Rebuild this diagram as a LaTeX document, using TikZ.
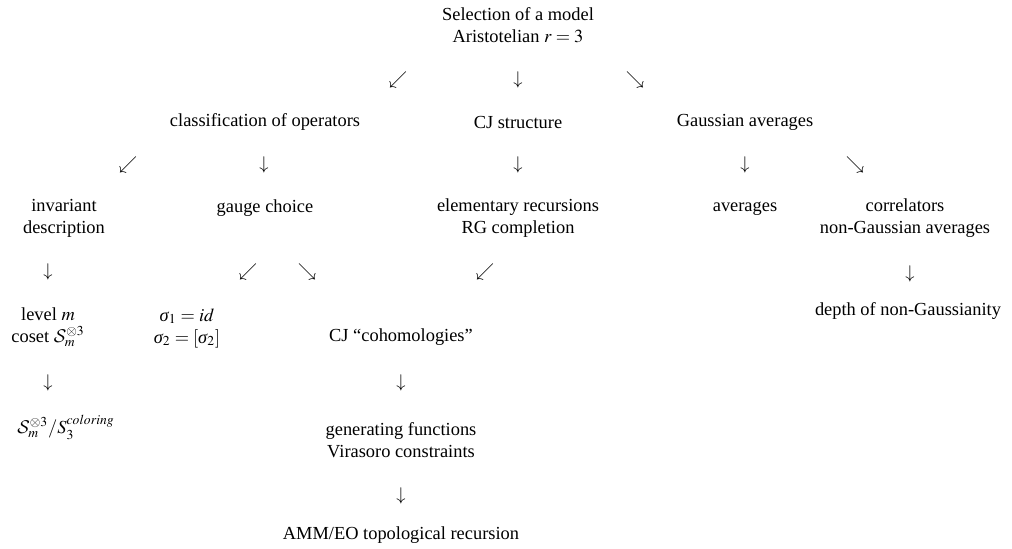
\documentclass[tikz,border=0pt]{standalone}
\usepackage{mathptmx}
\DeclareMathAlphabet{\mathcal}{OMS}{cmsy}{m}{n}
\usepackage[no-math]{fontspec}
\setmainfont{Liberation Serif}
\usepackage{tikz}
\newcommand{\sgm}{\mbox{\itshape σ}}

\begin{document}
\begin{tikzpicture}[x=0.5435pt,y=-0.5435pt,align=center,inner sep=0pt]
  \useasboundingbox (0,0) rectangle (1012,548);
  \node(sel)  at (518,25)  {Selection of a model\\Aristotelian $r=3$};
  \node(a1)   at (398,80)  {$\swarrow$};
  \node(a2)   at (518,80)  {$\downarrow$};
  \node(a3)   at (635,80)  {$\searrow$};
  \node(cls)  at (265,122) {classification of operators};
  \node(cj)   at (518,122) {CJ structure};
  \node(gau)  at (745,122) {Gaussian averages};
  \node(b1)   at (128,165) {$\swarrow$};
  \node(b2)   at (264,165) {$\downarrow$};
  \node(b3)   at (518,165) {$\downarrow$};
  \node(b4)   at (745,165) {$\downarrow$};
  \node(b5)   at (855,165) {$\searrow$};
  \node(inv)  at (64,218)  {invariant\\description};
  \node(gch)  at (265,208) {gauge choice};
  \node(elr)  at (518,218) {elementary recursions\\RG completion};
  \node(avg)  at (745,209) {averages};
  \node(cor)  at (905,218) {correlators\\non-Gaussian averages};
  \node(c1)   at (48,272)  {$\downarrow$};
  \node(c2)   at (248,272) {$\swarrow$};
  \node(c3)   at (307,272) {$\searrow$};
  \node(c4)   at (485,272) {$\swarrow$};
  \node(c5)   at (910,274) {$\downarrow$};
  \node(lvl)  at (48,327)  {level $m$\\coset $\mathcal{S}_m^{\otimes 3}$};
  \node(sig)  at (187,328) {$\sgm_1 = id$\\$\sgm_2 = [\sgm_2]$};
  \node(coh)  at (401,337) {CJ ``cohomologies''};
  \node(dep)  at (908,311) {depth of non-Gaussianity};
  \node(d1)   at (48,383)  {$\downarrow$};
  \node(d2)   at (401,383) {$\downarrow$};
  \node(quo)  at (66,427)  {$\mathcal{S}_m^{\otimes 3}/S_3^{coloring}$};
  \node(gen)  at (401,440) {generating functions\\Virasoro constraints};
  \node(e1)   at (401,496) {$\downarrow$};
  \node(amm)  at (401,535) {AMM/EO topological recursion};
\end{tikzpicture}
\end{document}
